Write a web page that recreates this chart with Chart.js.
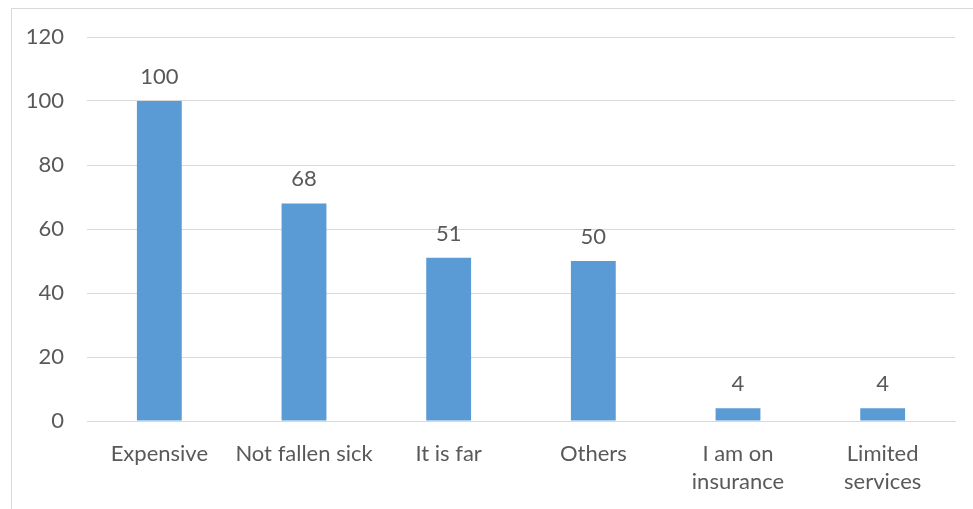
<!DOCTYPE html>
<html>
<head>
<meta charset="utf-8">
<script src="https://cdn.jsdelivr.net/npm/chart.js@4"></script>
<style>
  html, body { margin: 0; padding: 0; background: #fff; }
  #wrap { position: relative; width: 973px; height: 509px; }
  #frame { position: absolute; left: 11px; top: 8px; width: 980px; height: 520px; border: 1px solid #d9d9d9; box-sizing: border-box; }
  canvas { position: absolute; left: 0; top: 0; }
</style>
</head>
<body>
<div id="wrap">
  <div id="frame"></div>
  <canvas id="c" width="973" height="509"></canvas>
</div>
<script>
// Reasons given for not using the health facility
const categories = ["Expensive", "Not fallen sick", "It is far", "Others", ["I am on", "insurance"], ["Limited", "services"]];
const counts = [100, 68, 51, 50, 4, 4];
const yTicks = [0, 20, 40, 60, 80, 100, 120];

const FONT = "Lato, 'Open Sans', sans-serif";
const TEXT = "#595959";

// Writes each bar's value above it
const valueLabels = {
  id: "valueLabels",
  afterDatasetsDraw(chart) {
    const ctx = chart.ctx;
    const meta = chart.getDatasetMeta(0);
    ctx.save();
    ctx.font = "22px " + FONT;
    ctx.fillStyle = TEXT;
    ctx.textAlign = "center";
    ctx.textBaseline = "alphabetic";
    meta.data.forEach((bar, i) => {
      ctx.fillText(String(counts[i]), bar.x, bar.y - 17);
    });
    ctx.restore();
  }
};

new Chart(document.getElementById("c"), {
  type: "bar",
  data: {
    labels: categories,
    datasets: [{
      data: counts,
      backgroundColor: "#5b9bd5",
      barPercentage: 0.62,
      categoryPercentage: 0.5
    }]
  },
  options: {
    responsive: false,
    animation: false,
    layout: { padding: { top: 37, right: 18, left: 0, bottom: 0 } },
    plugins: { legend: { display: false }, tooltip: { enabled: false } },
    scales: {
      y: {
        min: 0, max: 120,
        afterBuildTicks(scale) { scale.ticks = yTicks.map(v => ({ value: v })); },
        afterFit(scale) { scale.width = 87; },
        border: { display: false },
        grid: { color: "#d9d9d9", lineWidth: 1, drawTicks: false },
        ticks: { color: TEXT, font: { family: FONT, size: 22 }, padding: 23 }
      },
      x: {
        afterFit(scale) { scale.height = 88; },
        border: { color: "#d9d9d9", width: 1 },
        grid: { display: false, drawTicks: false },
        ticks: { color: TEXT, font: { family: FONT, size: 22, lineHeight: 1.27 }, padding: 19, maxRotation: 0, autoSkip: false }
      }
    }
  },
  plugins: [valueLabels]
});
</script>
</body>
</html>
